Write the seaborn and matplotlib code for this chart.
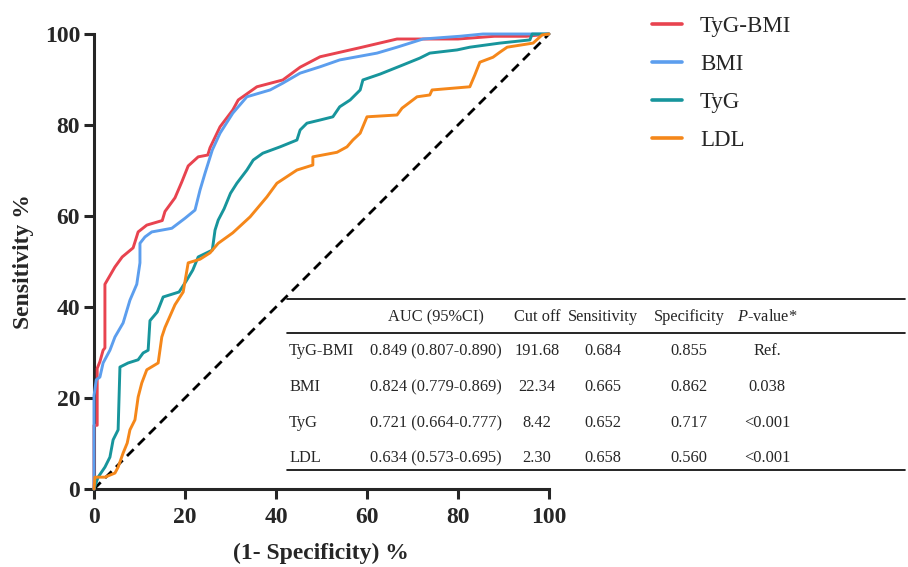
import matplotlib
matplotlib.use("Agg")
import matplotlib.pyplot as plt
from matplotlib.lines import Line2D
import seaborn as sns
import pandas as pd

# ---------------- data ----------------
series_names = ["TyG-BMI", "BMI", "TyG", "LDL"]

tygbmi_x = [0, 0, 0.7, 0.7, 1.3, 2.0, 2.4, 2.4, 4.6, 6.2, 8.6, 9.7, 11.6, 15, 15.6, 17.8, 19.3, 20.7, 22.9, 25,
            25.5, 27.7, 30.5, 31.7, 35.8, 41.5, 45.3, 49.7, 58.5, 66.6, 80, 88, 95, 100]
tygbmi_y = [0, 14, 14, 26.5, 28, 30.5, 31, 45, 48.8, 51, 53, 56.5, 58, 59, 61, 64, 67.5, 71, 73, 73.4,
            75, 79.6, 83.3, 85.5, 88.4, 89.9, 92.7, 95, 97, 98.9, 98.9, 99.5, 99.5, 100]

bmi_x = [0, 0, 0.5, 1.3, 2, 3.5, 4.6, 6.4, 7.9, 9.4, 10.1, 10.1, 11.2, 12.7, 17.1, 20, 22.2, 23.3, 24.4, 26,
         27.7, 30.5, 33.6, 38.7, 41.5, 45.3, 49.7, 54, 62.2, 66.6, 72.3, 80.4, 85.5, 100]
bmi_y = [0, 20.5, 24, 24.6, 27.7, 30.5, 33.4, 36.5, 41.5, 45, 49.7, 54, 55.4, 56.5, 57.3, 59.5, 61.3, 65.7, 69.4, 74.5,
         78.2, 82.6, 86.2, 87.7, 89.2, 91.4, 92.8, 94.3, 95.8, 97.1, 98.9, 99.5, 100, 100]

tyg_x = [0, 0.9, 2.4, 3.5, 4.2, 5.3, 5.7, 7.5, 9.7, 10.8, 11.9, 12.3, 13.9, 15.2, 18.7, 20.2, 21.7, 22.9, 26, 26.6,
         27.3, 28.6, 30, 31.4, 33.6, 35, 37.1, 40.9, 44.6, 45.3, 46.8, 49.7, 52.5, 54, 56.3, 58.5, 59.1, 62.9, 67.9, 71.6,
         73.8, 79.8, 82.6, 89.2, 95.8, 96.3, 100]
tyg_y = [0, 2.6, 4.8, 7, 10.8, 13, 26.8, 27.7, 28.4, 29.9, 30.5, 37, 38.9, 42.2, 43.3, 45.6, 48.1, 51, 52.5, 56.9,
         59.1, 61.6, 65, 67.2, 70.1, 72.3, 73.8, 75.2, 76.7, 78.9, 80.4, 81.1, 81.8, 84, 85.5, 87.7, 89.9, 91.2, 93.2, 94.7,
         95.8, 96.5, 97.1, 98, 98.7, 100, 100]

ldl_x = [0, 0.2, 2.4, 4.6, 5.3, 6.4, 7.3, 7.9, 9, 9.7, 10.5, 11.6, 14.1, 14.9, 15.6, 17.8, 19.6, 20.7, 23.3, 25.5,
         27.3, 30.5, 34.3, 38, 40.2, 44.6, 48.1, 48.1, 53.4, 55.6, 56.9, 58.5, 60, 66.6, 67.7, 71, 73.8, 74.3, 82.6, 83.7,
         84.8, 87.7, 89.2, 90.8, 96.5, 98.5, 100]
ldl_y = [0, 2.6, 2.6, 3.5, 4.8, 7.9, 10.1, 13, 15.2, 20.2, 23.3, 26.2, 27.7, 33.4, 35.5, 40.5, 43.3, 49.7, 50.5, 51.9,
         54, 56.3, 59.8, 64.2, 67.2, 70.1, 71.2, 73, 74, 75.2, 76.7, 78.2, 81.8, 82.2, 83.7, 86.2, 86.6, 87.7, 88.4, 91,
         93.8, 94.9, 96, 97.1, 98, 99.8, 100]

ref_x = [0, 100]
ref_y = [0, 100]

xticks = [0, 20, 40, 60, 80, 100]
yticks = [0, 20, 40, 60, 80, 100]

table_header = ["", "AUC (95%CI)", "Cut off", "Sensitivity", "Specificity", r"$\mathit{P}$-value*"]
table_rows = [
    ["TyG-BMI", "0.849 (0.807-0.890)", "191.68", "0.684", "0.855", "Ref."],
    ["BMI", "0.824 (0.779-0.869)", "22.34", "0.665", "0.862", "0.038"],
    ["TyG", "0.721 (0.664-0.777)", "8.42", "0.652", "0.717", "<0.001"],
    ["LDL", "0.634 (0.573-0.695)", "2.30", "0.658", "0.560", "<0.001"],
]

colors = ["#E8434F", "#5C9EEE", "#17959C", "#F5871A"]

# ---------------- style ----------------
sns.set_style("ticks")
plt.rcParams["font.family"] = ["Liberation Serif", "DejaVu Serif"]
plt.rcParams["mathtext.fontset"] = "custom"
plt.rcParams["mathtext.rm"] = "Liberation Serif"
plt.rcParams["mathtext.it"] = "Liberation Serif:italic"

W, H = 908, 567
fig = plt.figure(figsize=(W / 100, H / 100), dpi=100)
ax = fig.add_axes([94 / W, (H - 489) / H, 455 / W, 455 / H])

frames = []
for name, xs, ys in zip(series_names, [tygbmi_x, bmi_x, tyg_x, ldl_x], [tygbmi_y, bmi_y, tyg_y, ldl_y]):
    frames.append(pd.DataFrame({"fpr": xs, "tpr": ys, "marker": name}))
df = pd.concat(frames, ignore_index=True)

sns.lineplot(data=df, x="fpr", y="tpr", hue="marker", hue_order=series_names, palette=colors,
             estimator=None, sort=False, linewidth=2.1, ax=ax, zorder=5, clip_on=False, legend=False)

ax.plot(ref_x, ref_y, color="black", linestyle=(0, (3.4, 2.2)), linewidth=2.0, zorder=4)

ax.set_xlim(0, 100)
ax.set_ylim(0, 100)
ax.set_xticks(xticks)
ax.set_yticks(yticks)
sns.despine(ax=ax)
for s in ["left", "bottom"]:
    ax.spines[s].set_linewidth(2.2)
ax.tick_params(axis="both", width=2.2, length=7, labelsize=17)
ax.tick_params(axis="x", pad=6)
ax.tick_params(axis="y", pad=3)
for lab in ax.get_xticklabels() + ax.get_yticklabels():
    lab.set_fontweight("bold")

ax.set_xlabel("(1- Specificity) %", fontsize=17, fontweight="bold")
ax.set_ylabel("Sensitivity %", fontsize=17, fontweight="bold")
ax.xaxis.label.set_va("center")
ax.yaxis.label.set_va("center")
ax.xaxis.set_label_coords((321 - 94) / 455, (489 - 553) / 455)
ax.yaxis.set_label_coords((23 - 94) / 455, (489 - 262) / 455)

# legend
handles = [Line2D([0], [0], color=c, linewidth=2.6) for c in colors]
ax.legend(handles, series_names, loc="upper left", bbox_to_anchor=(652 / W, 1 - 16 / H),
          bbox_transform=fig.transFigure, frameon=False, fontsize=16.5, handlelength=1.3,
          handletextpad=0.8, labelspacing=0.74, borderpad=0, borderaxespad=0)

# table
def fx(px):
    return px / W

def fy(py):
    return 1 - py / H

for py in [299, 333, 470]:
    fig.add_artist(Line2D([fx(287), fx(905)], [fy(py), fy(py)], transform=fig.transFigure,
                          color="black", linewidth=1.2))

col_x = [289, 436, 537, 603, 689, 767]
header_y = 317
row_y = [351, 387, 423, 458]
tfs = 11.8
for j, txt in enumerate(table_header):
    if txt:
        fig.text(fx(col_x[j]), fy(header_y), txt, ha="center", va="center", fontsize=tfs)
for i, row in enumerate(table_rows):
    for j, txt in enumerate(row):
        fig.text(fx(col_x[j]), fy(row_y[i]), txt, ha="left" if j == 0 else "center",
                 va="center", fontsize=tfs)

fig.savefig("out.png", dpi=100)
